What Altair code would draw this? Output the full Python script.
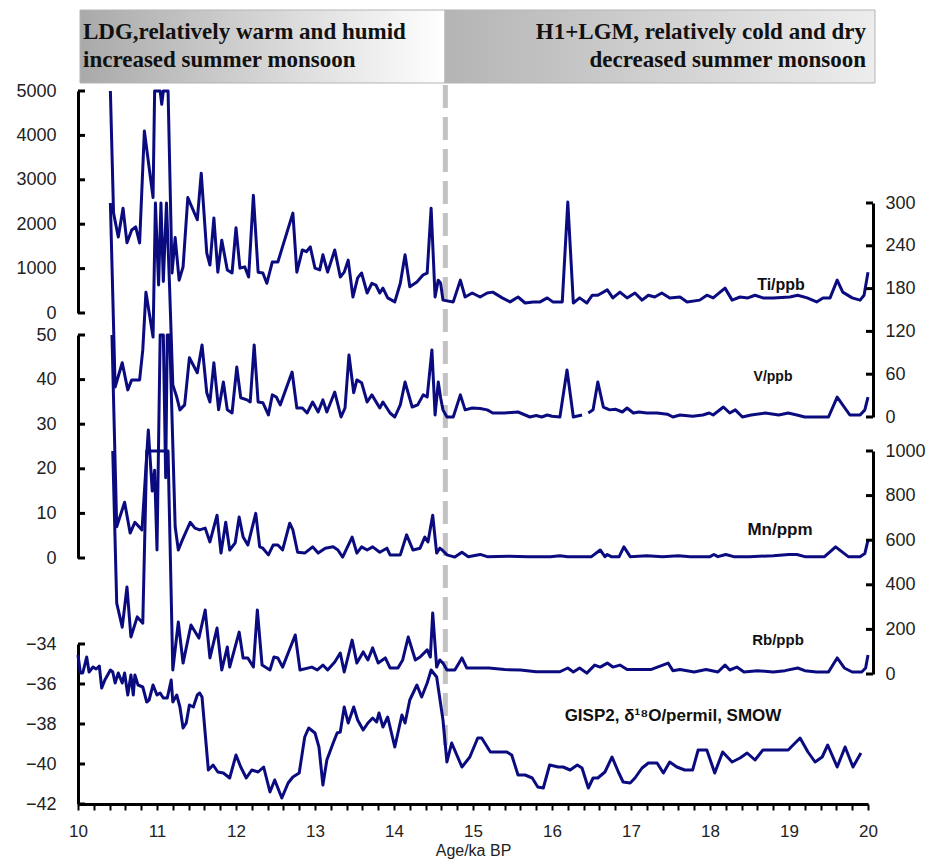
import altair as alt
import pandas as pd

# ---------------- data ----------------
TI_AGE = [10.41, 10.45, 10.51, 10.57, 10.62, 10.68, 10.73, 10.78, 10.84, 10.95, 10.97, 11.04, 11.06, 11.08,
          11.14, 11.19, 11.23, 11.28, 11.33, 11.39, 11.51, 11.56, 11.63, 11.67, 11.72, 11.77, 11.82, 11.89,
          11.95, 12.00, 12.05, 12.11, 12.16, 12.22, 12.28, 12.34, 12.39, 12.46, 12.53, 12.72, 12.77, 12.84,
          12.89, 12.94, 13.00, 13.06, 13.10, 13.16, 13.25, 13.32, 13.37, 13.42, 13.48, 13.54, 13.59, 13.66,
          13.72, 13.77, 13.82, 13.86, 13.92, 14.01, 14.08, 14.14, 14.20, 14.29, 14.37, 14.42, 14.47, 14.52,
          14.56, 14.59, 14.62, 14.75, 14.84, 14.90, 14.99, 15.09, 15.18, 15.25, 15.37, 15.47, 15.57, 15.66,
          15.76, 15.85, 15.94, 16.01, 16.13, 16.20, 16.27, 16.35, 16.44, 16.51, 16.58, 16.70, 16.77, 16.86,
          16.95, 17.05, 17.14, 17.22, 17.30, 17.39, 17.49, 17.62, 17.71, 17.87, 17.96, 18.04, 18.19, 18.28,
          18.38, 18.48, 18.57, 18.67, 18.80, 19.01, 19.11, 19.23, 19.35, 19.43, 19.52, 19.61, 19.68, 19.80,
          19.90, 19.95, 20.00]
TI_VAL = [6000, 2250, 1710, 2360, 1580, 1870, 1940, 1580, 4100, 2600, 6000, 6000, 4700, 6000,
          6000, 900, 1700, 740, 1040, 2600, 2100, 3150, 1350, 1080, 2140, 920, 1640, 970,
          900, 1920, 1010, 1040, 810, 2650, 920, 900, 670, 1150, 1150, 2250, 920, 1420,
          1380, 1490, 1010, 970, 1310, 920, 1420, 810, 920, 1190, 360, 790, 900, 450,
          670, 630, 450, 560, 340, 250, 670, 1310, 590, 700, 860, 900, 2360, 360,
          740, 670, 290, 250, 740, 360, 450, 360, 450, 470, 340, 250, 360, 225,
          250, 250, 340, 250, 250, 2500, 225, 340, 225, 400, 400, 520, 340, 470,
          340, 450, 290, 400, 360, 450, 340, 360, 250, 290, 400, 340, 560, 290,
          360, 340, 400, 340, 340, 360, 400, 340, 250, 340, 340, 740, 470, 340,
          290, 400, 920]

V_AGE = [10.41, 10.47, 10.56, 10.63, 10.68, 10.78, 10.82, 10.86, 10.95, 10.98, 11.02, 11.05, 11.08, 11.12,
         11.16, 11.20, 11.25, 11.29, 11.35, 11.41, 11.51, 11.57, 11.63, 11.67, 11.72, 11.78, 11.84, 11.89,
         11.95, 12.01, 12.06, 12.14, 12.18, 12.23, 12.28, 12.34, 12.41, 12.46, 12.51, 12.56, 12.71, 12.77,
         12.84, 12.90, 12.97, 13.04, 13.10, 13.15, 13.25, 13.33, 13.38, 13.43, 13.49, 13.53, 13.59, 13.66,
         13.72, 13.82, 13.86, 13.95, 14.01, 14.08, 14.14, 14.23, 14.30, 14.37, 14.42, 14.48, 14.52, 14.56,
         14.59, 14.62, 14.67, 14.75, 14.84, 14.90, 14.99, 15.09, 15.18, 15.25, 15.40, 15.57, 15.72, 15.80,
         15.87, 15.94, 16.00, 16.10, 16.19, 16.27, 16.38,
         16.46, 16.52, 16.58, 16.65, 16.73, 16.80, 16.89, 16.95, 17.03, 17.10, 17.20, 17.33, 17.46, 17.53,
         17.62, 17.78, 17.91, 17.99, 18.04, 18.17, 18.25, 18.32, 18.41, 18.52, 18.70, 18.87, 18.99, 19.10,
         19.20, 19.35, 19.50, 19.61, 19.77, 19.90, 19.96, 20.00]
V_VAL = [330, 42, 76, 38, 52, 52, 94, 175, 112, 330, 185, 330, 190, 330,
         180, 45, 28, 10, 17, 83, 62, 101, 34, 21, 76, 10, 49, 10,
         5.6, 70, 27, 24, 21, 101, 21, 20, 3, 31, 28, 17, 63, 12.6,
         12.6, 5.6, 21, 7, 24, 7, 35, 0, 12.6, 87, 34, 52, 48, 21,
         31, 12.6, 21, 5.6, 0, 17, 49, 14, 17, 31, 28, 94, 2.8, 49,
         27, 10, 0, 0, 31, 10, 12.6, 12, 10, 5.6, 5.6, 7, 0, 2,
         0, 2.8, 1, 0, 66, 0, 2.8,
         5.6, 10, 49, 14, 10, 11, 7, 12.6, 5.6, 7, 5.6, 5.6, 4, 0,
         2.8, 1, 2.8, 5.6, 2.8, 14, 5.6, 10, 0, 2.8, 5.6, 2.8, 5.6, 2.8,
         0, 0, 0, 28, 2.8, 2.8, 10, 28]
V_SEG = [1] * 91 + [2] * 36

MN_AGE = [10.43, 10.49, 10.59, 10.66, 10.72, 10.81, 10.89, 10.94, 10.97, 11.00, 11.04, 11.08, 11.11, 11.13,
          11.16, 11.23, 11.27, 11.32, 11.42, 11.48, 11.54, 11.61, 11.67, 11.76, 11.81, 11.87, 11.92, 11.99,
          12.04, 12.09, 12.15, 12.25, 12.30, 12.34, 12.41, 12.47, 12.53, 12.59, 12.68, 12.72, 12.78, 12.87,
          12.97, 13.04, 13.13, 13.23, 13.29, 13.35, 13.47, 13.53, 13.59, 13.66, 13.73, 13.82, 13.91, 13.95,
          14.08, 14.16, 14.24, 14.33, 14.39, 14.43, 14.49, 14.54, 14.58, 14.61, 14.67, 14.77, 14.86, 14.94,
          15.09, 15.18, 15.45, 15.70, 15.98, 16.10, 16.20, 16.40, 16.50, 16.61, 16.67, 16.70, 16.75, 16.85,
          16.91, 16.99, 17.20, 17.40, 17.60, 17.75, 18.00, 18.05, 18.10, 18.20, 18.30, 18.50, 18.80, 19.00,
          19.10, 19.20, 19.45, 19.59, 19.75, 19.90, 19.96, 20.00]
MN_VAL = [60, 7, 12.5, 5.6, 8, 6.3, 28.7, 15, 19.7, 1.8, 60, 60, 18, 60,
          60, 7, 1.8, 4, 8, 6.7, 6.3, 6.7, 3.6, 9.6, 1.1, 8, 1.8, 3.4,
          9.2, 4.7, 2.9, 10, 2.5, 2.2, 0.7, 2.9, 2.9, 1.8, 7.8, 6.3, 1.3, 1.1,
          2.5, 1.1, 2.2, 2.5, 1.8, 0.2, 4.7, 1.1, 2.5, 1.8, 2.5, 1.3, 2.2, 0.7,
          0.7, 5.2, 1.8, 2.2, 4.7, 3.6, 9.6, 1.1, 2.2, 1.8, 0.7, 0.2, 1.3, 0.3,
          0.8, 0.3, 0.4, 0.3, 0.3, 0.5, 0.3, 0.3, 0.3, 1.8, 0.3, 0.8, 0.3, 0.3,
          2.5, 0.3, 0.5, 0.3, 0.5, 0.3, 0.3, 0.8, 0.3, 0.8, 0.3, 0.3, 0.5, 0.8,
          0.8, 0.3, 0.3, 2.5, 0.3, 0.3, 1.0, 4.0]

RB_AGE = [10.44, 10.49, 10.56, 10.62, 10.67, 10.75, 10.82, 10.87, 11.14, 11.20, 11.27, 11.33, 11.43, 11.53,
          11.61, 11.67, 11.76, 11.82, 11.89, 11.92, 12.04, 12.09, 12.15, 12.22, 12.27, 12.33, 12.43, 12.48,
          12.53, 12.59, 12.75, 12.81, 12.96, 13.03, 13.10, 13.16, 13.25, 13.32, 13.37, 13.47, 13.53, 13.61,
          13.67, 13.73, 13.80, 13.89, 13.95, 14.05, 14.11, 14.18, 14.27, 14.33, 14.42, 14.46, 14.49, 14.54,
          14.58, 14.62, 14.67, 14.77, 14.86, 14.92, 15.00, 15.20, 15.40, 15.60, 15.80, 15.95, 16.10, 16.20,
          16.27, 16.35, 16.44, 16.54, 16.61, 16.70, 16.77, 16.86, 16.95, 17.10, 17.25, 17.47, 17.53, 17.62,
          17.80, 17.95, 18.10, 18.19, 18.25, 18.34, 18.43, 18.60, 18.80, 18.95, 19.11, 19.20, 19.35, 19.50,
          19.61, 19.70, 19.80, 19.92, 19.97, 20.00]
RB_VAL = [1100, 318, 210, 390, 166, 256, 228, 1100, 1100, 18, 233, 49, 220, 161,
          287, 72, 206, 18, 121, 31, 188, 72, 72, 31, 287, 40, 18, 76,
          72, 31, 175, 18, 31, 18, 40, 18, 54, 94, 9, 152, 49, 99,
          63, 117, 49, 72, 27, 27, 63, 166, 63, 76, 108, 76, 274, 31,
          63, 49, 18, 18, 72, 27, 27, 27, 20, 18, 10, 10, 10, 27,
          9, 27, 4, 40, 31, 49, 31, 40, 20, 20, 20, 49, 15, 20,
          9, 20, 9, 40, 18, 31, 9, 15, 9, 15, 27, 15, 9, 9,
          72, 27, 9, 9, 27, 85]

GISP_AGE = [10.00, 10.03, 10.06, 10.11, 10.14, 10.19, 10.23, 10.27, 10.30, 10.34, 10.41, 10.44, 10.47, 10.51,
            10.56, 10.59, 10.63, 10.67, 10.70, 10.72, 10.76, 10.82, 10.87, 10.90, 10.95, 11.00, 11.04, 11.08,
            11.13, 11.18, 11.20, 11.25, 11.29, 11.33, 11.37, 11.41, 11.46, 11.51, 11.54, 11.57, 11.65, 11.71,
            11.77, 11.84, 11.92, 12.00, 12.06, 12.13, 12.20, 12.28, 12.35, 12.43, 12.49, 12.58, 12.66, 12.72,
            12.80, 12.87, 12.92, 13.00, 13.05, 13.10, 13.15, 13.23, 13.28, 13.32, 13.37, 13.42, 13.49, 13.54,
            13.61, 13.67, 13.73, 13.78, 13.81, 13.86, 13.92, 14.01, 14.10, 14.14, 14.20, 14.29, 14.35, 14.42,
            14.47, 14.54, 14.62, 14.67, 14.73, 14.86, 14.96, 15.06, 15.11, 15.22, 15.32, 15.43, 15.49, 15.57,
            15.66, 15.75, 15.82, 15.89, 15.97, 16.08, 16.14, 16.23, 16.32, 16.38, 16.46, 16.52, 16.58, 16.67,
            16.76, 16.84, 16.90, 16.99, 17.05, 17.14, 17.22, 17.33, 17.41, 17.49, 17.58, 17.68, 17.78, 17.85,
            17.96, 18.06, 18.16, 18.28, 18.38, 18.47, 18.57, 18.67, 18.80, 18.99, 19.14, 19.24, 19.33, 19.42,
            19.49, 19.61, 19.71, 19.81, 19.91]
GISP_VAL = [-34.55, -35.45, -35.45, -34.65, -35.4, -35.15, -35.25, -35.1, -36.2, -35.8, -35.3, -35.4, -35.95, -35.45,
            -35.95, -35.45, -36.55, -35.55, -36.55, -35.55, -36.05, -36.15, -36.9, -36.8, -36.05, -36.55, -36.45, -36.7,
            -36.7, -35.8, -36.9, -36.55, -37.15, -38.2, -37.95, -37.05, -37.15, -36.55, -36.45, -36.65, -40.3, -40.05,
            -40.4, -40.45, -40.7, -39.55, -40.15, -40.7, -40.3, -40.4, -40.15, -41.4, -40.8, -41.7, -40.95, -40.65,
            -40.45, -38.65, -38.2, -38.45, -39.15, -41.05, -39.8, -38.95, -38.45, -38.4, -37.15, -37.95, -37.15, -37.8,
            -38.3, -37.95, -37.7, -37.9, -37.45, -38.15, -37.65, -39.15, -37.55, -37.95, -36.8, -36.05, -36.65, -35.95,
            -35.3, -35.65, -37.8, -39.9, -38.95, -40.15, -39.65, -38.7, -38.7, -39.4, -39.4, -39.4, -39.55, -40.55,
            -40.55, -40.7, -41.15, -41.2, -40.05, -40.15, -40.15, -40.3, -40.05, -40.2, -41.2, -40.7, -40.7, -40.4,
            -39.65, -40.4, -40.9, -40.95, -40.7, -40.2, -39.95, -39.95, -40.45, -39.9, -40.15, -40.3, -40.3, -39.3,
            -39.3, -40.45, -39.4, -39.9, -39.7, -39.45, -39.8, -39.3, -39.3, -39.3, -38.7, -39.4, -39.9, -39.65,
            -39.05, -40.15, -39.15, -40.15, -39.45]

BOUNDARY_AGE = [14.65]
X_TICKS = [round(10 + 0.2 * i, 1) for i in range(51)]
TI_TICKS = [0, 1000, 2000, 3000, 4000, 5000]
V_TICKS = [0, 60, 120, 180, 240, 300]
MN_TICKS = [0, 10, 20, 30, 40, 50]
RB_TICKS = [0, 200, 400, 600, 800, 1000]
GISP_TICKS = [-42, -40, -38, -36, -34]

# ---------------- styling ----------------
W, H = 790, 796
RIGHT_OFF = 5
NAVY = "#0b0b80"
FONT = "Liberation Sans"

x_axis = alt.Axis(values=X_TICKS,
                  labelExpr="abs(datum.value - round(datum.value)) < 0.001 ? format(datum.value, 'd') : ''",
                  labelFlush=False, labelOverlap=False, tickSize=6, tickWidth=2, tickColor="black",
                  domainWidth=3, domainColor="black", labelFontSize=17, labelFont=FONT, labelColor="#222",
                  labelPadding=13, title="Age/ka BP", titleFontSize=16, titleFont=FONT,
                  titleFontWeight="normal", titleColor="#222", titlePadding=3, grid=False)
X = alt.X("age:Q", scale=alt.Scale(domain=[10, 20], nice=False, zero=False), axis=x_axis)


def series(ages, vals, domain, rng, ticks, side, seg=None):
    d = {"age": ages, "value": vals}
    if seg is not None:
        d["seg"] = seg
    df = pd.DataFrame(d)
    sc = alt.Scale(domain=domain, range=rng, clamp=True, nice=False, zero=False)
    ax = alt.Axis(orient=side, offset=0 if side == "left" else RIGHT_OFF, values=ticks, format="d",
                  ticks=False, tickSize=0, domainWidth=3, domainColor="black", labelFontSize=18,
                  labelFont=FONT, labelColor="#222", labelPadding=22 if side == "left" else 12,
                  labelOverlap=False, labelFlush=False, grid=False, title=None)
    Y = alt.Y("value:Q", scale=sc, axis=ax)
    enc = dict(x=X, y=Y)
    if seg is not None:
        enc["detail"] = alt.Detail("seg:N")
    line = alt.Chart(df).mark_line(color=NAVY, strokeWidth=3, strokeJoin="round").encode(**enc)
    # inward-pointing tick marks of this series' axis
    if side == "left":
        tx0, tx1 = 0, 7
    else:
        tx0, tx1 = W + RIGHT_OFF - 7, W + RIGHT_OFF
    tick_df = pd.DataFrame({"value": ticks})
    tk = alt.Chart(tick_df).mark_rule(color="black", strokeWidth=3).encode(
        y=Y, x=alt.value(tx0), x2=alt.value(tx1))
    return alt.layer(line, tk)


def label(text, px, py, size, weight="bold", align="center", font=FONT, color="#111"):
    return alt.Chart(pd.DataFrame({"t": [text]})).mark_text(
        font=font, fontSize=size, fontWeight=weight, align=align, baseline="middle", color=color
    ).encode(text="t:N", x=alt.value(px), y=alt.value(py))


def header_box(x0, x1, c0, c1):
    return alt.Chart(pd.DataFrame({"a": [0]})).mark_rect(
        fill={"gradient": "linear", "x1": 0, "x2": 1, "y1": 0, "y2": 0,
              "stops": [{"offset": 0, "color": c0}, {"offset": 1, "color": c1}]},
        stroke="#b5b5b5", strokeWidth=1
    ).encode(x=alt.value(x0), x2=alt.value(x1), y=alt.value(2), y2=alt.value(75))


layers = []
layers += [header_box(2, 367, "#a9a9a9", "#ffffff"), header_box(367, 797, "#b4b4b4", "#ededed")]

boundary = alt.Chart(pd.DataFrame({"age": BOUNDARY_AGE})).mark_rule(
    color="#c2c2c2", strokeWidth=5, strokeDash=[23, 9]
).encode(x=X, y=alt.value(77), y2=alt.value(737))
layers.append(boundary)

layers.append(series(TI_AGE, TI_VAL, [0, 5000], [305, 83], TI_TICKS, "left"))
layers.append(series(V_AGE, V_VAL, [0, 300], [409, 195], V_TICKS, "right", seg=V_SEG))
layers.append(series(MN_AGE, MN_VAL, [0, 50], [550, 327], MN_TICKS, "left"))
layers.append(series(RB_AGE, RB_VAL, [0, 1000], [666, 443], RB_TICKS, "right"))
layers.append(series(GISP_AGE, GISP_VAL, [-42, -34], [796, 636], GISP_TICKS, "left"))

SERIF = "Liberation Serif"
layers += [
    label("LDG,relatively warm and humid", 5, 24, 23, align="left", font=SERIF),
    label("increased summer monsoon", 5, 52, 23, align="left", font=SERIF),
    label("H1+LGM, relatively cold and dry", 788, 24, 23, align="right", font=SERIF),
    label("decreased summer monsoon", 788, 52, 23, align="right", font=SERIF),
    label("Ti/ppb", 703, 277, 16),
    label("V/ppb", 695, 369, 14),
    label("Mn/ppm", 702, 522, 17),
    label("Rb/ppb", 700, 632, 15),
    label("GISP2, δ¹⁸O/permil, SMOW", 595, 708, 17),
]

chart = alt.layer(*layers).resolve_scale(y="independent").resolve_axis(y="independent").properties(
    width=W, height=H,
    autosize=alt.AutoSizeParams(type="none"),
    padding={"left": 70, "top": 0, "right": 58, "bottom": 56},
    background="white",
).configure_view(stroke=None)

chart.save("out.html", embed_options={"renderer": "svg", "actions": False})
